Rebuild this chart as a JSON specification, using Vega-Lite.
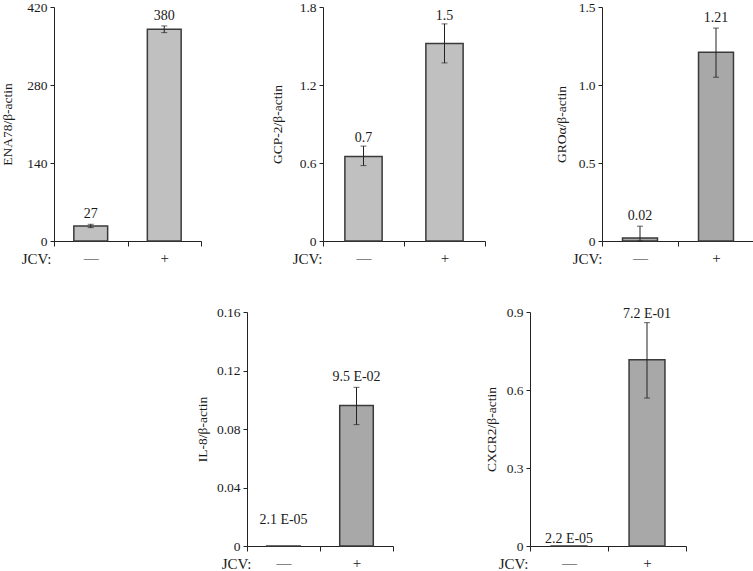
{
  "$schema": "https://vega.github.io/schema/vega-lite/v6.json",
  "padding": {"left": 0, "top": 0, "right": 0, "bottom": 0},
  "background": "white",
  "config": {
    "view": {"stroke": null},
    "font": "Liberation Serif",
    "axis": {"labelFont": "Liberation Serif", "labelFontSize": 13.5, "labelColor": "#1a1a1a", "titleFont": "Liberation Serif", "titleFontWeight": "normal", "titleColor": "#1a1a1a", "domainColor": "#222222", "tickColor": "#222222", "grid": false},
    "axisY": {"tickSize": 4, "labelPadding": 3, "titleFontSize": 13.5},
    "axisX": {"tickSize": 5, "labelFontSize": 15, "labelAngle": 0, "labelBaseline": "alphabetic", "labelPadding": 16, "tickBand": "extent", "titleFontSize": 15, "titleAngle": 0, "titleAlign": "right", "titleBaseline": "alphabetic", "titleY": 22},
    "text": {"font": "Liberation Serif", "fontSize": 14, "color": "#1a1a1a", "baseline": "alphabetic", "align": "center"}
  },
  "spacing": 39,
  "vconcat": [
    {
      "spacing": 68,
      "hconcat": [
        {
          "width": 147, "height": 234,
          "data": {"values": [
            {"jcv": "—", "value": 27, "lo": 24, "hi": 30, "label": "27"},
            {"jcv": "+", "value": 380, "lo": 374, "hi": 386, "label": "380"}
          ]},
          "encoding": {"x": {"field": "jcv", "type": "nominal", "sort": ["—", "+"], "scale": {"paddingInner": 0, "paddingOuter": 0}, "axis": {"title": "JCV:", "titleX": -3}}},
          "layer": [
            {"mark": {"type": "bar", "width": {"band": 0.46}, "fill": "#c0c0c0", "stroke": "#3a3a3a", "strokeWidth": 1.5},
             "encoding": {"y": {"field": "value", "type": "quantitative", "title": "ENA78/β-actin", "scale": {"domain": [0, 420], "nice": false}, "axis": {"values": [0, 140, 280, 420], "titlePadding": 12}}}},
            {"transform": [{"filter": "datum.hi > datum.lo"}],
             "mark": {"type": "errorbar", "ticks": {"size": 6}, "color": "#222222"},
             "encoding": {"y": {"field": "lo", "type": "quantitative", "title": "ENA78/β-actin"}, "y2": {"field": "hi"}}},
            {"mark": {"type": "text", "dy": -6},
             "encoding": {"y": {"field": "hi", "type": "quantitative", "title": "ENA78/β-actin"}, "text": {"field": "label"}}}
          ]
        },
        {
          "width": 162, "height": 234,
          "data": {"values": [
            {"jcv": "—", "value": 0.65, "lo": 0.58, "hi": 0.73, "label": "0.7"},
            {"jcv": "+", "value": 1.52, "lo": 1.37, "hi": 1.67, "label": "1.5"}
          ]},
          "encoding": {"x": {"field": "jcv", "type": "nominal", "sort": ["—", "+"], "scale": {"paddingInner": 0, "paddingOuter": 0}, "axis": {"title": "JCV:", "titleX": -1}}},
          "layer": [
            {"mark": {"type": "bar", "width": {"band": 0.46}, "fill": "#c0c0c0", "stroke": "#3a3a3a", "strokeWidth": 1.5},
             "encoding": {"y": {"field": "value", "type": "quantitative", "title": "GCP-2/β-actin", "scale": {"domain": [0, 1.8], "nice": false}, "axis": {"values": [0, 0.6, 1.2, 1.8], "labelExpr": "datum.value === 0 ? '0' : format(datum.value, '.1f')", "titlePadding": 15}}}},
            {"transform": [{"filter": "datum.hi > datum.lo"}],
             "mark": {"type": "errorbar", "ticks": {"size": 6}, "color": "#222222"},
             "encoding": {"y": {"field": "lo", "type": "quantitative", "title": "GCP-2/β-actin"}, "y2": {"field": "hi"}}},
            {"mark": {"type": "text", "dy": -4},
             "encoding": {"y": {"field": "hi", "type": "quantitative", "title": "GCP-2/β-actin"}, "text": {"field": "label"}}}
          ]
        },
        {
          "width": 152, "height": 234,
          "data": {"values": [
            {"jcv": "—", "value": 0.02, "lo": 0, "hi": 0.095, "label": "0.02"},
            {"jcv": "+", "value": 1.21, "lo": 1.05, "hi": 1.365, "label": "1.21"}
          ]},
          "encoding": {"x": {"field": "jcv", "type": "nominal", "sort": ["—", "+"], "scale": {"paddingInner": 0, "paddingOuter": 0}, "axis": {"title": "JCV:", "titleX": 0}}},
          "layer": [
            {"mark": {"type": "bar", "width": {"band": 0.46}, "fill": "#a8a8a8", "stroke": "#3a3a3a", "strokeWidth": 1.5},
             "encoding": {"y": {"field": "value", "type": "quantitative", "title": "GROα/β-actin", "scale": {"domain": [0, 1.5], "nice": false}, "axis": {"values": [0, 0.5, 1, 1.5], "labelExpr": "datum.value === 0 ? '0' : format(datum.value, '.1f')", "titlePadding": 10}}}},
            {"transform": [{"filter": "datum.hi > datum.lo"}],
             "mark": {"type": "errorbar", "ticks": {"size": 6}, "color": "#222222"},
             "encoding": {"y": {"field": "lo", "type": "quantitative", "title": "GROα/β-actin"}, "y2": {"field": "hi"}}},
            {"mark": {"type": "text", "dy": -6},
             "encoding": {"y": {"field": "hi", "type": "quantitative", "title": "GROα/β-actin"}, "text": {"field": "label"}}}
          ]
        }
      ]
    },
    {
      "spacing": 90,
      "hconcat": [
        {
          "width": 51, "height": 234,
          "data": {"values": [{"k": 0}]},
          "mark": {"type": "point", "opacity": 0},
          "encoding": {}
        },
        {
          "width": 146, "height": 234,
          "data": {"values": [
            {"jcv": "—", "value": 0.000021, "lo": 0.000021, "hi": 0.000021, "label": "2.1 E-05"},
            {"jcv": "+", "value": 0.096, "lo": 0.083, "hi": 0.1085, "label": "9.5 E-02"}
          ]},
          "encoding": {"x": {"field": "jcv", "type": "nominal", "sort": ["—", "+"], "scale": {"paddingInner": 0, "paddingOuter": 0}, "axis": {"title": "JCV:", "titleX": 4}}},
          "layer": [
            {"mark": {"type": "bar", "width": {"band": 0.46}, "fill": "#a8a8a8", "stroke": "#3a3a3a", "strokeWidth": 1.5},
             "encoding": {"y": {"field": "value", "type": "quantitative", "title": "IL-8/β-actin", "scale": {"domain": [0, 0.16], "nice": false}, "axis": {"values": [0, 0.04, 0.08, 0.12, 0.16], "labelExpr": "datum.value === 0 ? '0' : format(datum.value, '.2f')", "titlePadding": 7}}}},
            {"transform": [{"filter": "datum.hi > datum.lo"}],
             "mark": {"type": "errorbar", "ticks": {"size": 6}, "color": "#222222"},
             "encoding": {"y": {"field": "lo", "type": "quantitative", "title": "IL-8/β-actin"}, "y2": {"field": "hi"}}},
            {"transform": [{"filter": "datum.jcv === '+'"}],
             "mark": {"type": "text", "dy": -6},
             "encoding": {"y": {"field": "hi", "type": "quantitative", "title": "IL-8/β-actin"}, "text": {"field": "label"}}},
            {"transform": [{"filter": "datum.jcv === '—'"}],
             "mark": {"type": "text", "dy": -22},
             "encoding": {"y": {"field": "hi", "type": "quantitative", "title": "IL-8/β-actin"}, "text": {"field": "label"}}}
          ]
        },
        {
          "width": 156, "height": 234,
          "data": {"values": [
            {"jcv": "—", "value": 0.000022, "lo": 0.000022, "hi": 0.000022, "label": "2.2 E-05"},
            {"jcv": "+", "value": 0.716, "lo": 0.569, "hi": 0.859, "label": "7.2 E-01"}
          ]},
          "encoding": {"x": {"field": "jcv", "type": "nominal", "sort": ["—", "+"], "scale": {"paddingInner": 0, "paddingOuter": 0}, "axis": {"title": "JCV:", "titleX": -2}}},
          "layer": [
            {"mark": {"type": "bar", "width": {"band": 0.46}, "fill": "#a8a8a8", "stroke": "#3a3a3a", "strokeWidth": 1.5},
             "encoding": {"y": {"field": "value", "type": "quantitative", "title": "CXCR2/β-actin", "scale": {"domain": [0, 0.9], "nice": false}, "axis": {"values": [0, 0.3, 0.6, 0.9], "labelExpr": "datum.value === 0 ? '0' : format(datum.value, '.1f')", "titlePadding": 8}}}},
            {"transform": [{"filter": "datum.hi > datum.lo"}],
             "mark": {"type": "errorbar", "ticks": {"size": 6}, "color": "#222222"},
             "encoding": {"y": {"field": "lo", "type": "quantitative", "title": "CXCR2/β-actin"}, "y2": {"field": "hi"}}},
            {"transform": [{"filter": "datum.jcv === '+'"}],
             "mark": {"type": "text", "dy": -5},
             "encoding": {"y": {"field": "hi", "type": "quantitative", "title": "CXCR2/β-actin"}, "text": {"field": "label"}}},
            {"transform": [{"filter": "datum.jcv === '—'"}],
             "mark": {"type": "text", "dy": -3},
             "encoding": {"y": {"field": "hi", "type": "quantitative", "title": "CXCR2/β-actin"}, "text": {"field": "label"}}}
          ]
        }
      ]
    }
  ]
}
